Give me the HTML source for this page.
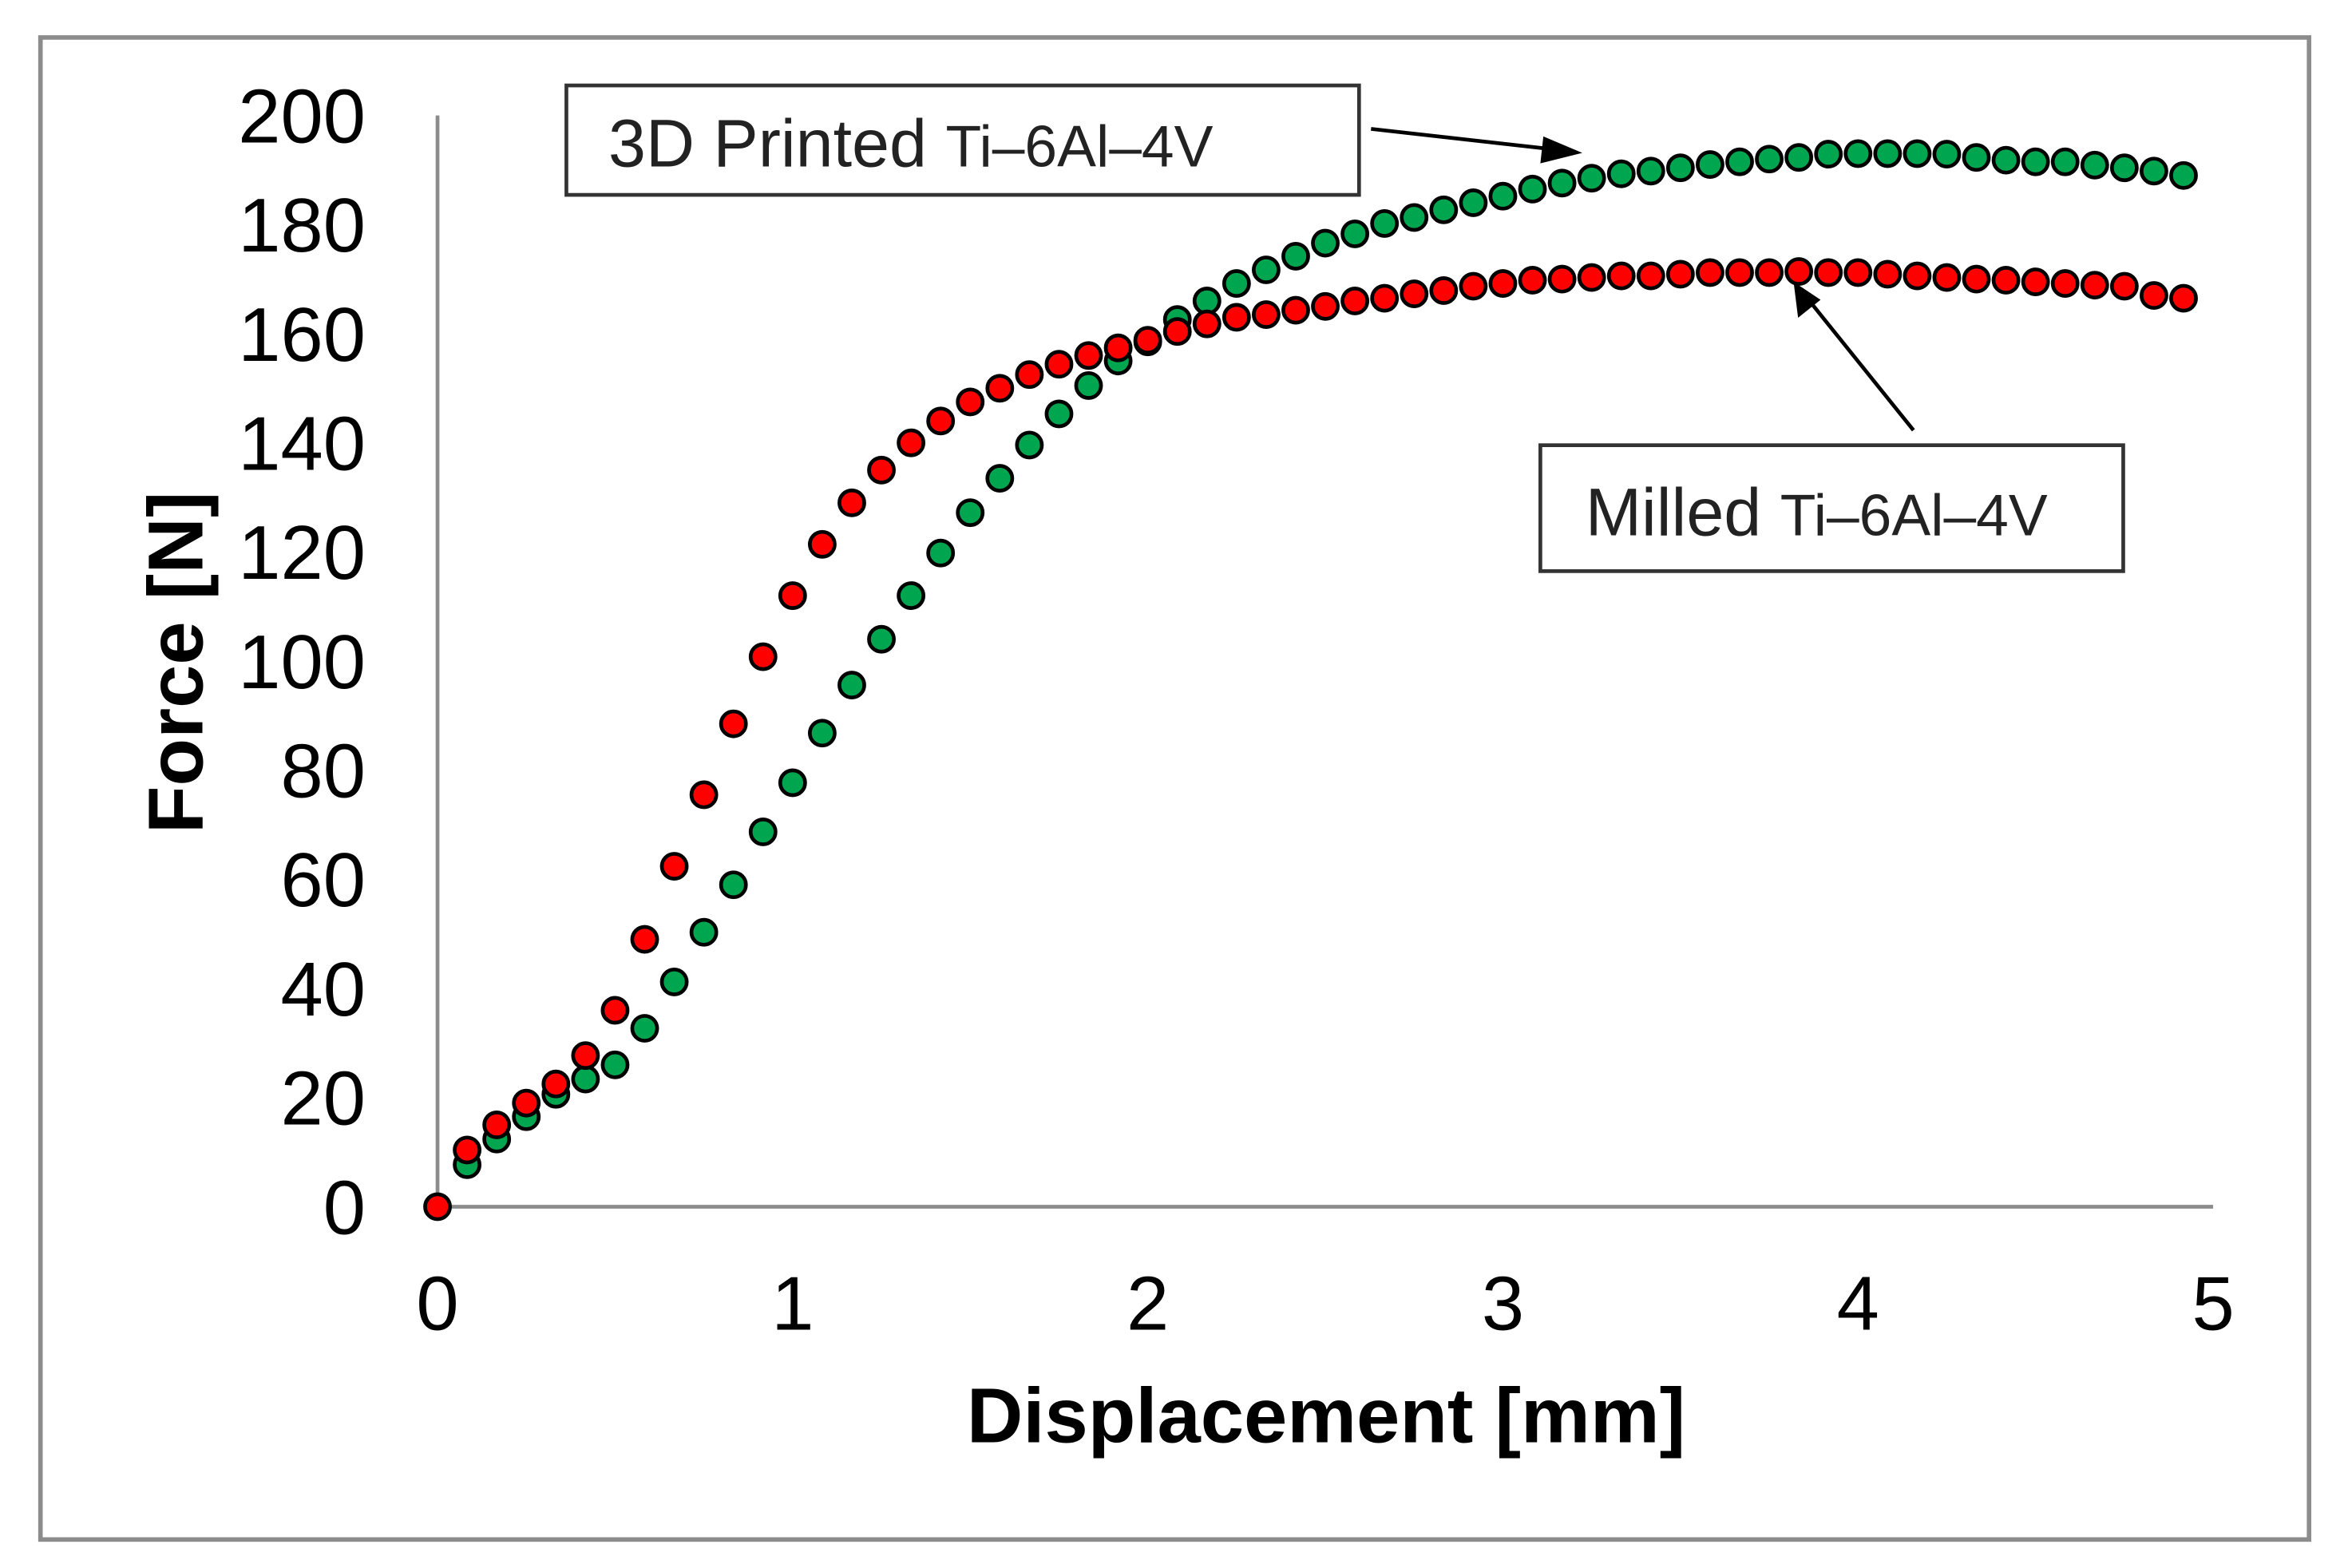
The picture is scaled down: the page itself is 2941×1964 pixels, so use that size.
<!DOCTYPE html>
<html><head><meta charset="utf-8"><style>
html,body{margin:0;padding:0;background:#fff;}
svg{display:block;}
text{font-family:"Liberation Sans",Arial,sans-serif;}
</style></head>
<body>
<svg id="chart" width="2941" height="1964" viewBox="0 0 1567 1046" preserveAspectRatio="none" xmlns="http://www.w3.org/2000/svg">
<rect x="27" y="25" width="1514" height="1002" fill="#fff" stroke="#8c8c8c" stroke-width="3"/>
<g id="axes"></g>
<g id="marks"></g>
<text x="885" y="962" font-size="52" font-weight="bold" text-anchor="middle">Displacement [mm]</text>
<text transform="translate(135,442) rotate(-90)" font-size="52" font-weight="bold" text-anchor="middle">Force [N]</text>
<g>
<rect x="378" y="57" width="529" height="73" fill="#fff" stroke="#333" stroke-width="2.5"/>
<text x="406" y="111" font-size="45" fill="#222">3D Printed <tspan font-size="39">Ti‒6Al‒4V</tspan></text>
<line x1="915" y1="86" x2="1040" y2="100" stroke="#000" stroke-width="2.5"/>
<polygon points="1056,102 1030,91 1028,109" fill="#000"/>
</g>
<g>
<rect x="1028" y="297" width="389" height="84" fill="#fff" stroke="#333" stroke-width="2.5"/>
<text x="1058" y="357" font-size="45" fill="#222">Milled <tspan font-size="39">Ti‒6Al‒4V</tspan></text>
<line x1="1277" y1="287" x2="1207" y2="200" stroke="#000" stroke-width="2.5"/>
<polygon points="1197,188 1200,212 1215,200" fill="#000"/>
</g>
</svg>
<script>
const xTicks = [0,1,2,3,4,5];
const yTicks = [0,20,40,60,80,100,120,140,160,180,200];
const step = 1/12;
const milled = [0,10.4,15,19,22.5,27.7,36,49,62.4,75.5,88.5,100.8,112,121.4,129,135,140,144,147.5,150,152.5,154.4,156,157.4,158.8,160.4,161.8,163,163.5,164.3,165,166,166.5,167.3,167.9,168.7,169.2,169.8,170,170.3,170.6,170.6,170.9,171.2,171.2,171.2,171.4,171.2,171.2,170.9,170.6,170.3,170,169.8,169.5,169.2,168.9,168.7,167,166.5];
const printed = [0,7.7,12.4,16.5,20.6,23.4,26,32.7,41.2,50.3,59,68.7,77.7,86.8,95.6,104,112,119.8,127.2,133.5,139.6,145.3,150.5,155,158.5,162.6,166,169.2,171.7,174.2,176.6,178.3,180.2,181.3,182.7,184,185.2,186.5,187.6,188.5,189.3,189.8,190.4,191,191.5,192,192.3,192.9,193,193,193,192.9,192.3,191.8,191.5,191.5,190.9,190.4,189.8,189];
const NS='http://www.w3.org/2000/svg';
const X0=292,X1=1477,Y0=805,Y1=77;
function xs(v){return X0+(v-0)/(5-0)*(X1-X0);}
function ys(v){return Y0-(v-0)/(200-0)*(Y0-Y1);}
function mk(tag,attrs,parent){const e=document.createElementNS(NS,tag);for(const k in attrs)e.setAttribute(k,attrs[k]);parent.appendChild(e);return e;}
const axes=document.getElementById('axes');
const ya=mk('line',{x1:X0,y1:ys(200),x2:X0,y2:Y0,stroke:'#8c8c8c','stroke-width':2.5},axes);


const xa=mk('line',{x1:X0,y1:Y0,x2:X1,y2:Y0,stroke:'#8c8c8c','stroke-width':2.5},axes);


yTicks.forEach(t=>{
 const tx=mk('text',{x:244,y:ys(t)+18,'font-size':51,'text-anchor':'end'},axes);
 tx.textContent=t;
 
 
});
xTicks.forEach(t=>{
 const tx=mk('text',{x:xs(t),y:887,'font-size':51,'text-anchor':'middle'},axes);
 tx.textContent=t;
 
 
});
const marks=document.getElementById('marks');
function series(arr,color,name,skipFirst){
 const g=mk('g',{},marks);
 
 
 arr.forEach((v,i)=>{
  if(skipFirst&&i===0)return;
  const c=mk('circle',{cx:xs(i*step),cy:ys(v),r:8.3,fill:color,stroke:'#000','stroke-width':2.5},g);
  
  
 });
}
series(printed,'#00a550','printed',true);
series(milled,'#ff0000','milled',false);
</script>
</body></html>
